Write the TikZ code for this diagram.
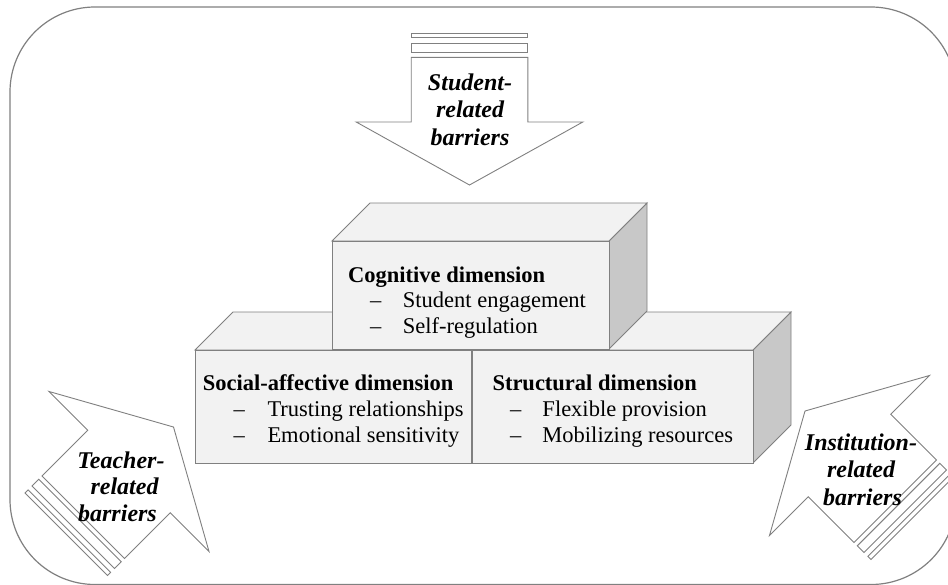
\documentclass[tikz,border=0pt]{standalone}
\usepackage{fontspec}
\setmainfont{Liberation Serif}
\definecolor{edgegray}{HTML}{808080}
\definecolor{facelight}{HTML}{F2F2F2}
\definecolor{facedark}{HTML}{C8C8C8}
\tikzset{
  frameline/.style={draw=edgegray, line width=1.2pt},
  arrowline/.style={draw=edgegray, line width=0.9pt, fill=white, line join=miter},
  frontface/.style={draw=edgegray, line width=0.9pt, fill=facelight, line join=miter},
  sideface/.style={draw=edgegray, line width=0.9pt, fill=facedark, line join=miter},
  boxtitle/.style={anchor=base west, inner sep=0pt, font=\fontsize{22.5}{25.7}\selectfont\bfseries},
  boxitem/.style={anchor=base west, inner sep=0pt, font=\fontsize{22.5}{25.7}\selectfont},
  arrowtext/.style={anchor=base, inner sep=0pt, font=\fontsize{24}{27}\selectfont\bfseries\itshape},
}
\newcommand{\barrierarrow}[2]{%
  \begin{scope}[shift={#1}, rotate=#2]
    \draw[arrowline] (0,0) -- (-63,113.3) -- (-63,58.3) -- (-127.7,58.3) -- (-127.7,-58.3)
      -- (-63,-58.3) -- (-63,-113.3) -- cycle;
    \draw[arrowline] (-132.3,58.3) rectangle (-141.7,-58.3);
    \draw[arrowline] (-147.3,58.3) rectangle (-151.7,-58.3);
  \end{scope}}
\begin{document}
\begin{tikzpicture}[x=1pt,y=-1pt]
  \clip (0,0) rectangle (948,584);
  \fill[white] (0,0) rectangle (948,584);
  % outer frame
  \draw[frameline, rounded corners=85pt] (10,7) rectangle (956,584.5);

  % arrows
  \barrierarrow{(469.5,185)}{-90}
  \barrierarrow{(173.5,427)}{45}
  \barrierarrow{(805,411)}{135}

  % social-affective box
  \draw[sideface] (471,350) -- (509,312) -- (509,425) -- (471,463) -- cycle;
  \draw[frontface] (195,350) -- (233,312) -- (509,312) -- (471,350) -- cycle;
  \draw[frontface] (195,350) rectangle (471,463);
  % structural box
  \draw[sideface] (753,350) -- (791,312) -- (791,425) -- (753,463) -- cycle;
  \draw[frontface] (472,350) -- (510,312) -- (791,312) -- (753,350) -- cycle;
  \draw[frontface] (472,350) rectangle (753,463);
  % cognitive box
  \draw[sideface] (609,241) -- (647,203) -- (647,311) -- (609,349) -- cycle;
  \draw[frontface] (332,241) -- (370,203) -- (647,203) -- (609,241) -- cycle;
  \draw[frontface] (332,241) rectangle (609,349);

  % box texts
  \node[boxtitle] (cogt) at (348,282) {Cognitive dimension};
  \node[boxitem] (cog1) at (370,307.5) {\makebox[32.7pt][l]{–}Student engagement};
  \node[boxitem] (cog2) at (370,333) {\makebox[32.7pt][l]{–}Self-regulation};

  \node[boxtitle] (soct) at (202.7,390.7) {Social-affective dimension};
  \node[boxitem] (soc1) at (233.3,416.4) {\makebox[34pt][l]{–}Trusting relationships};
  \node[boxitem] (soc2) at (233.3,442) {\makebox[34pt][l]{–}Emotional sensitivity};

  \node[boxtitle] (strt) at (492.3,390.7) {Structural dimension};
  \node[boxitem] (str1) at (510,416.4) {\makebox[32.3pt][l]{–}Flexible provision};
  \node[boxitem] (str2) at (510,442) {\makebox[32.3pt][l]{–}Mobilizing resources};

  % arrow texts
  \node[arrowtext] (stu1) at (470,90.7) {Student-};
  \node[arrowtext] (stu2) at (470,117.5) {related};
  \node[arrowtext] (stu3) at (470,145) {barriers};

  \node[arrowtext] (tea1) at (121,468.3) {Teacher-};
  \node[arrowtext] (tea2) at (124.5,494.5) {related};
  \node[arrowtext] (tea3) at (117.5,521.7) {barriers};

  \node[arrowtext] (ins1) at (861,450) {Institution-};
  \node[arrowtext] (ins2) at (861,477.3) {related};
  \node[arrowtext] (ins3) at (862.5,505) {barriers};
\end{tikzpicture}
\end{document}
